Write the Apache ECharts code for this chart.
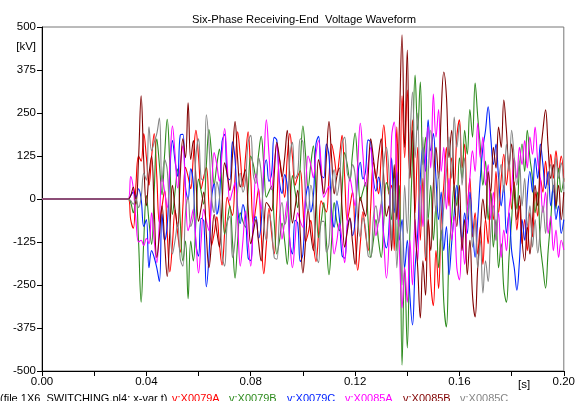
<!DOCTYPE html>
<html><head><meta charset="utf-8">
<script src="https://cdn.jsdelivr.net/npm/echarts/dist/echarts.min.js"></script>
<style>html,body{margin:0;padding:0;background:#fff}#c{width:578px;height:401px}</style>
</head><body><div id="c"></div>
<script>
// sampling: first sample at 0.034 s, step 1 ms
const T0 = 0.034, DT = 0.001;
const xTickLabels = ['0.00','0.04','0.08','0.12','0.16','0.20'];
const seriesNames = ['v:X0079A','v:X0079B','v:X0079C','v:X0085A','v:X0085B','v:X0085C'];
const seriesColors = ['#ff0000','#2e8b1e','#0022ff','#ff00ff','#800000','#858585'];

const v79A = [-60,-85,40,125,110,190,122,40,122,190,
65,-68,-22,25,-100,-212,-130,-32,-100,-155,
-22,92,65,30,122,200,122,30,65,92,
-22,-135,-100,-52,-130,-192,-100,5,-22,-48,
65,195,122,35,122,195,65,-73,-22,30,
-100,-217,-130,-27,-100,-160,-22,117,65,5,
122,190,122,40,65,82,-22,-125,-100,-62,
-130,-182,-100,-5,-22,-38,65,160,122,70,
122,185,65,-63,-22,20,-100,-207,-130,-37,
-100,-150,-22,107,65,15,122,215,122,15,
40,-150,210,-80,300,120,317,60,230,-40,
150,-120,60,-180,-60,-240,-310,-150,-260,-60,
40,150,-20,120,40,180,230,90,160,-20,
60,-110,-40,-160,-80,-190,-60,-130,20,-60,
80,-40,60,130,40,110,-30,50,-90,-20,
-130,-60,-150,-40,-110,20,-50,60,20,110,
40,130,60,140,80,125,50];

const v79B = [-10,-40,10,-122,-300,-122,10,-65,-132,22,
175,100,12,130,232,100,-45,22,88,-65,
-180,-122,-290,-122,-180,-65,58,22,-15,100,
202,130,42,100,145,22,-102,-65,-20,-122,
-230,-122,-40,-65,-82,22,125,100,62,130,
182,100,5,22,38,-65,-160,-122,-70,-122,
-190,-65,68,22,-25,100,212,130,32,100,
155,22,-112,-65,-10,-122,-220,-122,-10,-65,
-92,22,135,100,52,130,192,100,-5,22,
48,-65,-170,-122,-60,-122,-170,-65,48,22,
-60,80,-150,40,-483,-200,-433,-100,120,360,
200,340,100,180,-60,40,-120,-20,-200,-90,
-300,-372,-160,-60,40,-20,120,60,200,130,
260,180,337,240,150,40,110,-60,20,-140,
-60,-200,-130,-260,-300,-170,-60,40,-30,90,
160,80,200,120,60,-40,20,-130,-200,-259,
-150,-60,40,-30,90,20,60];

const v79C = [10,20,5,30,0,-80,-60,-200,-150,-170,
-200,-240,-44,-121,-78,78,170,110,66,186,
188,34,-1,88,44,-131,-166,-56,-64,-255,
-166,1,44,-44,-1,166,188,64,56,166,
114,-27,-71,-16,-51,-171,-179,-73,-51,-114,
-71,71,114,51,73,179,171,51,16,71,
38,-125,-160,-62,-70,-182,-160,-5,38,-38,
5,160,182,70,62,160,125,-38,-82,-5,
-58,-164,-172,-80,-58,-107,-64,64,107,58,
80,172,164,58,23,64,20,-107,-142,-80,
120,-40,80,-120,-60,-200,-120,-280,-366,-200,
-100,60,150,80,230,140,190,60,-60,20,
-150,-80,-220,-130,-40,40,-50,-120,-40,-100,
20,-80,-169,-60,60,150,200,268,180,100,
160,60,-20,40,-100,-40,-150,-200,-265,-180,
-60,-120,10,80,20,120,60,160,100,30,
80,-20,40,-60,-20,-100,-60];

const v85A = [65,30,-60,-125,-120,-135,-115,-130,-40,-120,
-185,-65,68,22,-25,100,212,130,32,100,
155,22,-92,-65,-30,-122,-215,-122,-30,-65,
-92,22,135,100,52,130,205,100,-5,22,
48,-65,-195,-122,-35,-122,-195,-65,73,22,
-30,100,230,130,27,100,160,22,-117,-65,
-5,-122,-200,-122,-40,-65,-82,22,125,100,
62,130,170,100,5,22,38,-65,-160,-122,
-70,-122,-185,-65,63,22,-20,100,220,130,
37,100,150,22,-107,-65,-15,-122,-230,-122,
180,224,60,-150,-317,-200,-300,-120,-250,-60,
-180,40,-80,120,210,90,305,180,260,80,
150,-30,60,-120,-50,-200,-235,-110,-190,-40,
60,140,80,220,120,180,40,100,-60,20,
-120,-40,-170,-90,-150,-30,30,120,60,150,
100,170,90,180,130,209,110,60,-40,20,
-100,-50,-150,-90,-170,-120,-148];

const v85B = [10,35,-15,115,300,110,-20,70,125,-30,
-170,-105,-20,-125,-225,-95,40,-30,-80,70,
175,120,280,115,170,60,-65,-25,20,-105,
-200,-125,-45,-95,-140,-20,105,70,25,125,
225,115,35,60,85,-25,-130,-95,-60,-125,
-180,-95,-10,-20,-35,70,165,120,65,120,
200,60,-70,-25,25,-105,-215,-125,-30,-100,
-150,-20,115,70,15,120,225,120,15,65,
90,-25,-140,-95,-55,-125,-190,-95,5,-25,
-50,65,175,120,60,125,175,60,-50,-20,
-150,100,-60,220,477,150,433,60,200,-80,
-200,-346,-180,-280,-60,-150,40,150,60,250,
369,300,120,200,20,-80,40,-150,-60,-220,
-120,-280,-343,-200,-100,0,-60,80,20,150,
90,209,150,288,200,100,160,20,-60,10,
-120,-180,-80,-160,-60,40,-20,120,200,259,
150,60,100,-20,40,-60,20];

const v85C = [-5,-15,0,-25,5,75,55,210,140,165,
190,235,50,115,85,-70,-160,-120,-70,-175,
-195,-40,5,-80,-50,125,175,60,55,245,
160,5,-40,50,10,-160,-195,-70,-50,-170,
-120,25,75,20,55,165,185,70,45,120,
75,-65,-120,-45,-80,-170,-175,-55,-10,-75,
-35,120,165,60,75,175,165,10,-35,40,
-10,-155,-185,-65,-65,-155,-130,35,85,10,
55,160,180,75,60,100,70,-60,-110,-55,
-85,-165,-170,-55,-20,-70,-15,100,150,75,
-120,60,-200,-60,-250,40,-100,150,311,120,
250,-80,180,-171,60,200,100,-40,80,-120,
-20,80,180,60,238,150,220,40,120,-60,
0,-140,-60,-200,-120,-273,-180,-240,-100,-20,
-120,40,100,20,160,80,200,120,40,110,
-20,60,-80,-20,-140,-60,-157,-90,-20,-100,
40,100,20,120,60,105,30];

const allValues = [v79A, v79B, v79C, v85A, v85B, v85C];

function toPairs(vals){
  const d = [[0,0],[T0 - DT,0]];
  for (let i = 0; i < vals.length; i++) d.push([T0 + i*DT, vals[i]]);
  return d;
}

const FONT = '"Liberation Sans", Arial, sans-serif';
const chart = echarts.init(document.getElementById('c'), null, {renderer:'canvas'});

const legendX = [172, 229, 287, 345, 403, 460];
const graphics = [
  {type:'text', x:304, y:20, style:{text:'Six-Phase Receiving-End  Voltage Waveform', font:'11.2px '+FONT, fill:'#000', textAlign:'center', textVerticalAlign:'middle'}},
  {type:'text', x:36, y:47, style:{text:'[kV]', font:'11.5px '+FONT, fill:'#000', textAlign:'right', textVerticalAlign:'middle'}},
  {type:'text', x:524, y:385, style:{text:'[s]', font:'11.5px '+FONT, fill:'#000', textAlign:'center', textVerticalAlign:'middle'}},
  {type:'text', x:0, y:393, style:{text:'(file 1X6_SWITCHING.pl4; x-var t)', font:'11px '+FONT, fill:'#000', textAlign:'left', textVerticalAlign:'top'}}
];
seriesNames.forEach((n,i)=>{
  graphics.push({type:'text', x:legendX[i], y:393, style:{text:n, font:'11px '+FONT, fill:seriesColors[i], textAlign:'left', textVerticalAlign:'top'}});
});

chart.setOption({
  animation:false,
  backgroundColor:'#fff',
  grid:{left:42, right:13, top:27, bottom:30, show:true, borderColor:'#777', borderWidth:1, backgroundColor:'transparent'},
  xAxis:{type:'value', min:0, max:0.2, interval:0.02,
    axisLine:{show:true, onZero:false, lineStyle:{color:'#000', width:1}},
    axisTick:{show:true, inside:false, length:5, lineStyle:{color:'#000'}},
    splitLine:{show:false},
    axisLabel:{color:'#000', fontSize:11.5, fontFamily:FONT, margin:5, showMinLabel:true, showMaxLabel:true,
      formatter:function(v){ const k = Math.round(v*100); return (k % 4 === 0) ? xTickLabels[k/4] : ''; }}
  },
  yAxis:{type:'value', min:-500, max:500, interval:125,
    axisLine:{show:true, onZero:false, lineStyle:{color:'#000', width:1}},
    axisTick:{show:true, inside:false, length:5, lineStyle:{color:'#000'}},
    splitLine:{show:false},
    axisLabel:{color:'#000', fontSize:11.5, fontFamily:FONT, margin:6}
  },
  graphic:graphics,
  series: allValues.map((vals,i)=>({
    name:seriesNames[i], type:'line', data:toPairs(vals), showSymbol:false, symbol:'none',
    smooth:0.4, lineStyle:{color:seriesColors[i], width:1.1}, itemStyle:{color:seriesColors[i]},
    clip:true, z:2
  }))
});
</script></body></html>
